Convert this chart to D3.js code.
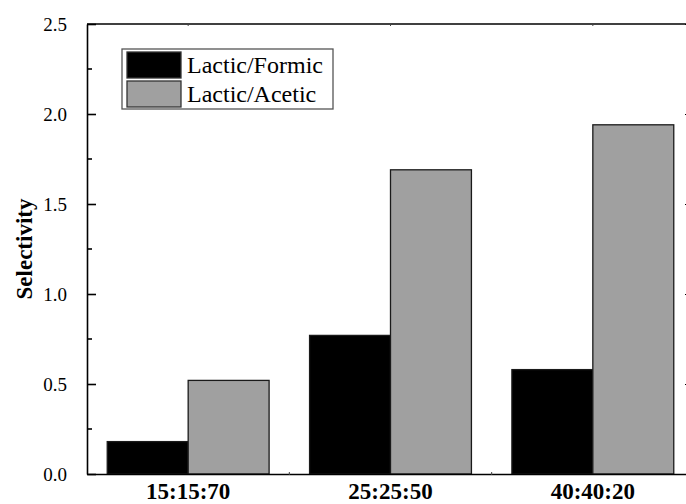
<!DOCTYPE html>
<html>
<head>
<meta charset="utf-8">
<script src="https://cdn.jsdelivr.net/npm/d3@7"></script>
<style>
  body { margin: 0; background: #fff; }
  svg text { font-family: "Liberation Serif", "Times New Roman", serif !important; fill: #000; }
</style>
</head>
<body>
<div id="chart"></div>
<script>
// data
var ratios = ["15:15:70", "25:25:50", "40:40:20"];
var seriesNames = ["Lactic/Formic", "Lactic/Acetic"];
var formic = [0.18, 0.77, 0.58];
var acetic = [0.52, 1.69, 1.94];
var yTicks = [0.0, 0.5, 1.0, 1.5, 2.0, 2.5];
var colors = ["#000000", "#a0a0a0"];

var svgWidth = 686;
var svgHeight = 504;
var margin = { top: 24, right: -8, bottom: 30, left: 87 };
var width = svgWidth - margin.left - margin.right;
var height = svgHeight - margin.top - margin.bottom;

var svg = d3.select("#chart")
  .append("svg")
  .attr("width", svgWidth)
  .attr("height", svgHeight);

var chartGroup = svg.append("g")
  .attr("transform", `translate(${margin.left}, ${margin.top})`);

// scales
var xBand = d3.scaleBand()
  .domain(ratios)
  .range([0, width])
  .paddingInner(0.2)
  .paddingOuter(0.1);

var xSub = d3.scaleBand()
  .domain(seriesNames)
  .range([0, xBand.bandwidth()]);

var yScale = d3.scaleLinear()
  .domain([0, 2.5])
  .range([height, 0]);

var rows = ratios.map((r, i) => ({ ratio: r, values: [formic[i], acetic[i]] }));

// bars
var groups = chartGroup.selectAll(".grp")
  .data(rows)
  .enter()
  .append("g")
  .attr("class", "grp")
  .attr("transform", d => `translate(${xBand(d.ratio)}, 0)`);

groups.selectAll("rect")
  .data(d => d.values.map((v, j) => ({ name: seriesNames[j], value: v, j: j })))
  .enter()
  .append("rect")
  .attr("x", d => xSub(d.name))
  .attr("y", d => yScale(d.value))
  .attr("width", xSub.bandwidth())
  .attr("height", d => height - yScale(d.value))
  .attr("fill", d => colors[d.j])
  .attr("stroke", "#1a1a1a")
  .attr("stroke-width", 1.3);

// left axis, ticks inward
var leftAxis = d3.axisLeft(yScale)
  .tickValues(yTicks)
  .tickFormat(d3.format(".1f"))
  .tickSizeInner(-9)
  .tickSizeOuter(0)
  .tickPadding(20);

var yAxisG = chartGroup.append("g").call(leftAxis);
yAxisG.select(".domain").attr("stroke-width", 1.6);
yAxisG.selectAll(".tick line").attr("stroke-width", 1.6);
yAxisG.selectAll("text")
  .attr("font-size", "19px");

// minor ticks on left
var minorTicks = d3.range(0.25, 2.5, 0.5);
chartGroup.selectAll(".minor")
  .data(minorTicks)
  .enter()
  .append("line")
  .attr("x1", 0)
  .attr("x2", 5)
  .attr("y1", d => yScale(d))
  .attr("y2", d => yScale(d))
  .attr("stroke", "#000")
  .attr("stroke-width", 1.6);

// right axis (mostly off-canvas), ticks inward
var rightAxis = d3.axisRight(yScale)
  .tickValues(yTicks)
  .tickFormat("")
  .tickSizeInner(-9)
  .tickSizeOuter(0);

var rAxisG = chartGroup.append("g")
  .attr("transform", `translate(${width}, 0)`)
  .call(rightAxis);
rAxisG.select(".domain").attr("stroke-width", 1.6);

// bottom axis with tiny ticks at category boundaries
var bottomAxis = d3.axisBottom(xBand)
  .tickSize(0)
  .tickPadding(9);

var xAxisG = chartGroup.append("g")
  .attr("transform", `translate(0, ${height})`)
  .call(bottomAxis);
xAxisG.select(".domain").attr("stroke-width", 1.6);
xAxisG.selectAll("text")
  .attr("font-size", "23px")
  .attr("font-weight", "bold");

var bounds = ratios.slice(1).map(r => xBand(r) - xBand.step() * xBand.paddingInner() / 2);
chartGroup.selectAll(".btick")
  .data(bounds)
  .enter()
  .append("line")
  .attr("x1", d => d)
  .attr("x2", d => d)
  .attr("y1", height - 2)
  .attr("y2", height + 1)
  .attr("stroke", "#444")
  .attr("stroke-width", 1);

// top axis
chartGroup.append("line")
  .attr("x1", 0)
  .attr("x2", width)
  .attr("y1", 0)
  .attr("y2", 0)
  .attr("stroke", "#000")
  .attr("stroke-width", 1.6);

chartGroup.selectAll(".ttick")
  .data(ratios)
  .enter()
  .append("line")
  .attr("x1", d => xBand(d) + xBand.bandwidth() / 2)
  .attr("x2", d => xBand(d) + xBand.bandwidth() / 2)
  .attr("y1", -1)
  .attr("y2", 2)
  .attr("stroke", "#444")
  .attr("stroke-width", 1);

// y label
chartGroup.append("text")
  .attr("transform", "rotate(-90)")
  .attr("x", 0 - (height / 2))
  .attr("y", 0 - margin.left + 32)
  .attr("text-anchor", "middle")
  .attr("font-size", "23px")
  .attr("font-weight", "bold")
  .text("Selectivity");

// legend
var legend = svg.append("g")
  .attr("transform", "translate(122, 49)");

legend.append("rect")
  .attr("x", 0)
  .attr("y", 0)
  .attr("width", 211)
  .attr("height", 60)
  .attr("fill", "#fff")
  .attr("stroke", "#555")
  .attr("stroke-width", 1.3);

var items = legend.selectAll(".item")
  .data(seriesNames)
  .enter()
  .append("g")
  .attr("transform", (d, i) => `translate(5, ${3 + i * 29})`);

items.append("rect")
  .attr("width", 54)
  .attr("height", 26)
  .attr("fill", (d, i) => colors[i])
  .attr("stroke", "#333")
  .attr("stroke-width", 1.3);

items.append("text")
  .attr("x", 60)
  .attr("y", 21)
  .attr("font-size", "24px")
  .text(d => d);
</script>
</body>
</html>
